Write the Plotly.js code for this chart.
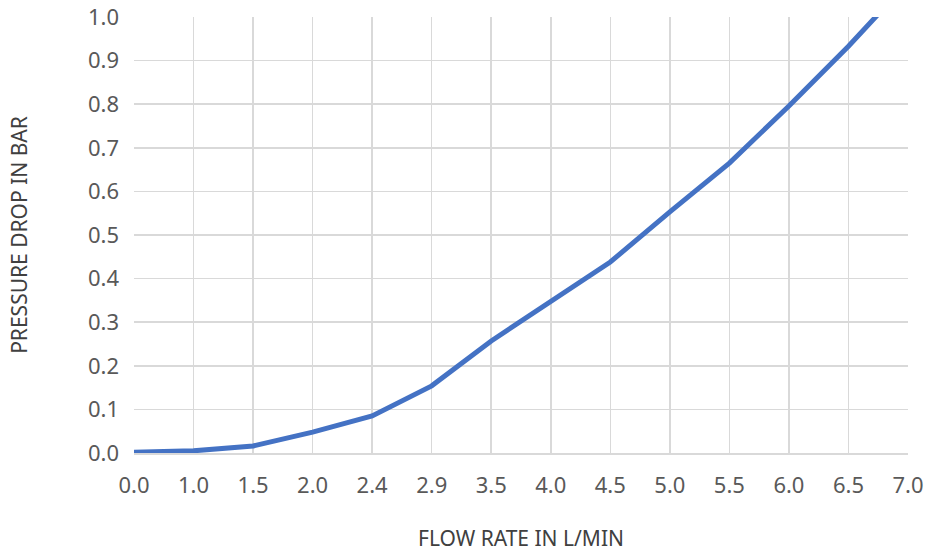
<!DOCTYPE html>
<html>
<head>
<meta charset="utf-8">
<script src="https://cdn.plot.ly/plotly-3.0.1.min.js"></script>
<style>html,body{margin:0;padding:0;background:#fff;}#chart{width:940px;height:552px;}</style>
</head>
<body>
<div id="chart"></div>
<script>
const flowRates = ["0.0","1.0","1.5","2.0","2.4","2.9","3.5","4.0","4.5","5.0","5.5","6.0","6.5","7.0"];
const pressureDrop = [0.002,0.005,0.016,0.048,0.085,0.154,0.257,0.349,0.438,0.553,0.665,0.796,0.933,1.08];
const yTicks = [0,0.1,0.2,0.3,0.4,0.5,0.6,0.7,0.8,0.9,1.0];
const yTickText = yTicks.map(v => v.toFixed(1));

const trace = {
  x: flowRates,
  y: pressureDrop,
  type: 'scatter',
  mode: 'lines',
  line: {color: '#4472C4', width: 5},
  hoverinfo: 'x+y'
};

const fam = 'Noto Sans, Open Sans, sans-serif';

const layout = {
  width: 940, height: 552,
  margin: {l: 134, r: 32, t: 17, b: 99},
  paper_bgcolor: '#fff', plot_bgcolor: '#fff',
  showlegend: false,
  font: {family: fam, color: '#595959'},
  xaxis: {
    type: 'category',
    range: [0, flowRates.length - 1],
    showgrid: true, gridcolor: '#d9d9d9', gridwidth: 1.5,
    showline: true, linecolor: '#d9d9d9', linewidth: 1.5,
    zeroline: false,
    ticks: '',
    tickfont: {family: fam, size: 22, color: '#595959'},
    ticklabelstandoff: 12,
    title: {text: 'FLOW RATE IN L/MIN', font: {family: fam, size: 21, color: '#404040'}, standoff: 34}
  },
  yaxis: {
    range: [0, 1],
    tickvals: yTicks,
    ticktext: yTickText,
    showgrid: true, gridcolor: '#d9d9d9', gridwidth: 1.5,
    zeroline: false,
    showline: false,
    ticks: '',
    tickfont: {family: fam, size: 22, color: '#595959'},
    ticklabelstandoff: 14,
    title: {text: 'PRESSURE DROP IN BAR', font: {family: fam, size: 21, color: '#404040'}, standoff: 54}
  }
};

Plotly.newPlot('chart', [trace], layout, {displayModeBar: false, staticPlot: true});
</script>
</body>
</html>
